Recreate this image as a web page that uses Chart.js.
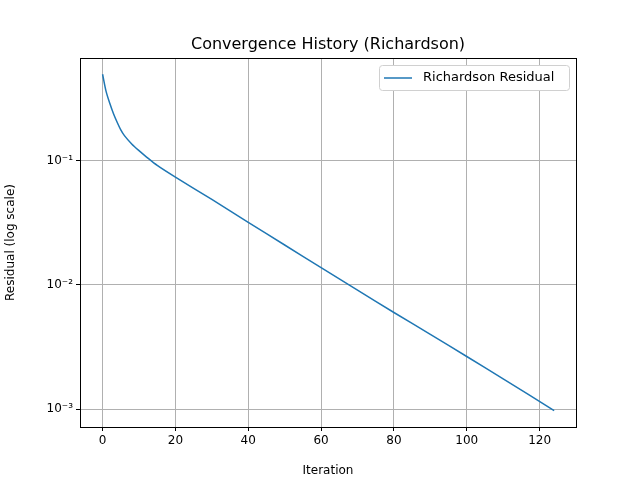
<!DOCTYPE html>
<html>
<head>
<script src="https://cdn.jsdelivr.net/npm/chart.js@4"></script>
<style>body{margin:0;background:#fff}</style>
</head>
<body>
<canvas id="c" width="640" height="480" style="width:640px;height:480px"></canvas>
<script>
// iteration / residual
let iterations = [0, 1, 2, 3, 4, 5, 6, 8, 10, 12, 15, 20, 30, 40, 50, 60, 70, 80, 90, 100, 110, 124]
let residuals = [0.50, 0.36, 0.29, 0.24, 0.205, 0.178, 0.160, 0.137, 0.121, 0.108, 0.092, 0.074, 0.049, 0.032, 0.021, 0.0138, 0.0091, 0.0060, 0.0040, 0.00265, 0.00175, 0.00097]
let xTicks = [0, 20, 40, 60, 80, 100, 120]
let yTicks = [0.001, 0.01, 0.1]
let yLabels = {"0.001": "10\u207B\u00B3", "0.01": "10\u207B\u00B2", "0.1": "10\u207B\u00B9"}

let points = iterations.map((x, i) => ({x: x, y: residuals[i]}))

let font = {family: "DejaVu Sans", size: 12}

let frame = {
	id: 'frame',
	afterDraw(chart) {
		let c = chart.ctx, a = chart.chartArea
		c.save()
		c.strokeStyle = '#000'
		c.lineWidth = 1
		c.strokeRect(a.left + 0.5, a.top + 0.5, a.right - a.left, a.bottom - a.top)
		c.fillStyle = '#000'
		c.font = '16px "DejaVu Sans"'
		c.textAlign = 'center'
		c.textBaseline = 'alphabetic'
		c.fillText('Convergence History (Richardson)', (a.left + a.right) / 2, 49)
		// legend
		c.fillStyle = '#fff'
		c.strokeStyle = '#d0d0d0'
		c.beginPath()
		c.roundRect(379.5, 65.5, 190, 25, 3)
		c.fill(); c.stroke()
		c.strokeStyle = '#1f77b4'
		c.lineWidth = 1.5
		c.beginPath(); c.moveTo(384, 78); c.lineTo(412, 78); c.stroke()
		c.fillStyle = '#000'
		c.font = '13px "DejaVu Sans"'
		c.textAlign = 'left'
		c.textBaseline = 'middle'
		c.fillText('Richardson Residual', 423, 78)
		c.restore()
	}
}

new Chart(document.getElementById('c').getContext('2d'), {
	type: 'line',
	data: {
		datasets: [{
			data: points,
			borderColor: '#1f77b4',
			borderWidth: 1.5,
			pointRadius: 0,
			tension: 0.3,
			fill: false
		}]
	},
	options: {
		responsive: false,
		animation: false,
		layout: {padding: {top: 58, right: 64, left: 0, bottom: 0}},
		plugins: {legend: {display: false}, tooltip: {enabled: false}},
		scales: {
			x: {
				type: 'linear',
				min: -6.2,
				max: 130,
				afterBuildTicks: s => { s.ticks = xTicks.map(v => ({value: v})) },
				afterFit: s => { s.height = 53 },
				grid: {color: '#b0b0b0', tickColor: '#000', tickLength: 4},
				border: {color: '#000'},
				ticks: {color: '#000', font: font, padding: 3},
				title: {display: true, text: 'Iteration', color: '#000', font: font, padding: 2}
			},
			y: {
				type: 'logarithmic',
				min: 0.000716,
				max: 0.676,
				afterBuildTicks: s => { s.ticks = yTicks.map(v => ({value: v})) },
				afterFit: s => { s.width = 80 },
				grid: {color: '#b0b0b0', tickColor: '#000', tickLength: 4},
				border: {color: '#000'},
				ticks: {color: '#000', font: font, padding: 3, callback: v => yLabels[String(v)] || ''},
				title: {display: true, text: 'Residual (log scale)', color: '#000', font: font, padding: 4}
			}
		}
	},
	plugins: [frame]
})
</script>
</body>
</html>
